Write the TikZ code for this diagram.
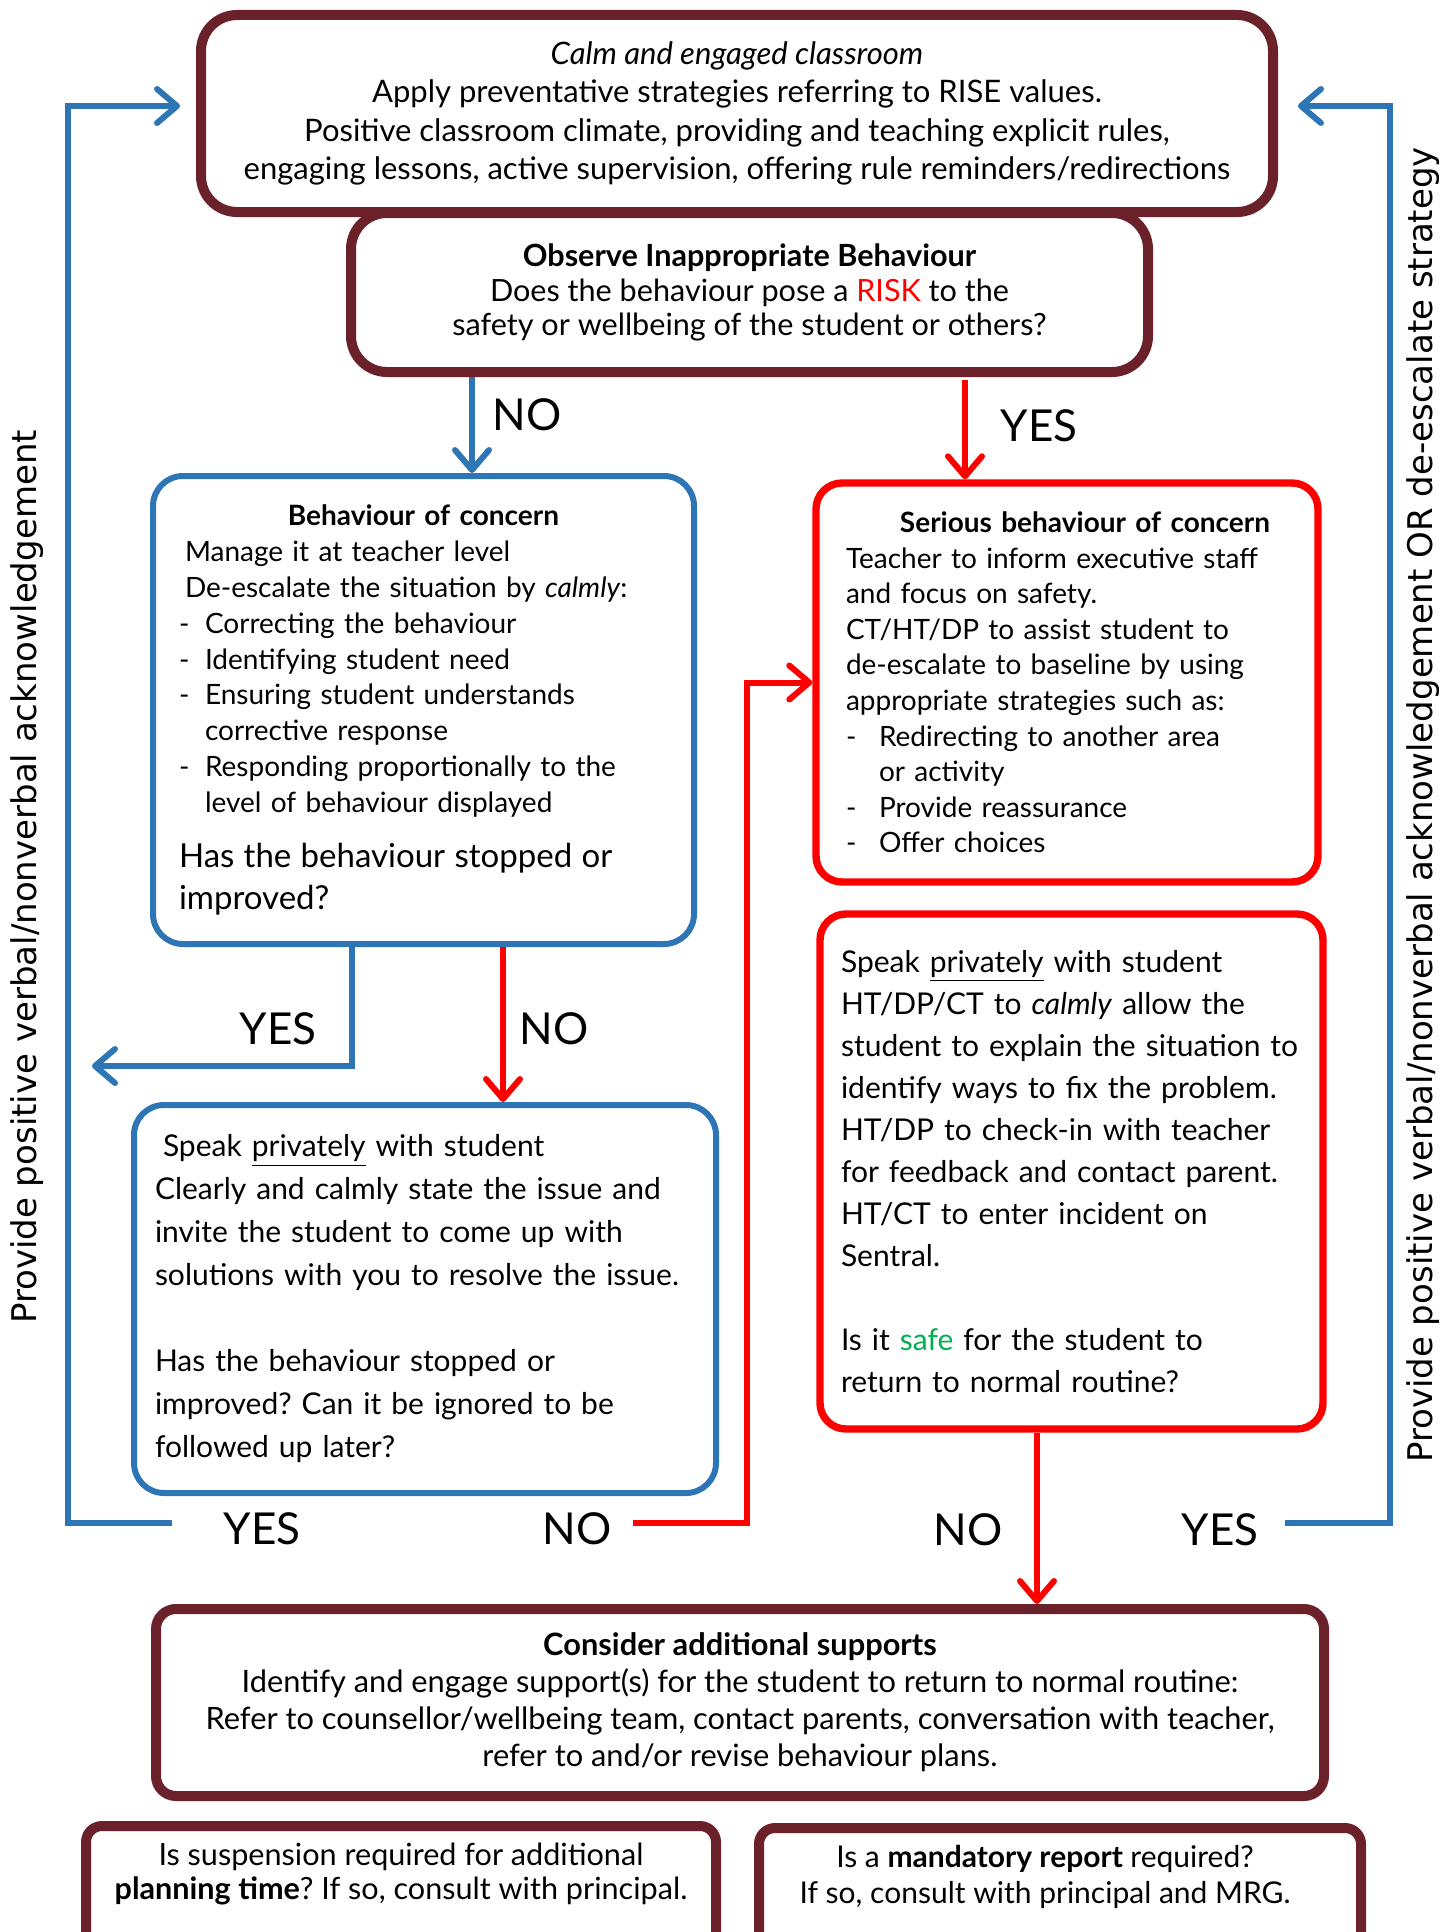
\documentclass[tikz,border=0pt]{standalone}
\usepackage{fontspec}
\setmainfont{Lato}
\newfontfamily\sidefont{DejaVu Sans}
\usetikzlibrary{arrows.meta}
\definecolor{boxmaroon}{HTML}{6B2129}
\definecolor{boxblue}{HTML}{2E75B6}
\definecolor{boxred}{HTML}{FF0000}
\definecolor{safegreen}{HTML}{00B050}
\newcommand{\dashitem}[1][13pt]{\makebox[#1][l]{-}}
\newcommand{\dashcont}[1][13pt]{\hspace*{#1}}
\frenchspacing
\begin{document}
\begin{tikzpicture}[x=0.5pt,y=-0.5pt]
        \tikzstyle{mbox}=[draw=boxmaroon, line width=5pt, rounded corners=18pt, align=center, inner sep=0pt]
        \tikzstyle{bbox}=[draw=boxblue, line width=3pt, rounded corners=15pt, inner sep=0pt]
        \tikzstyle{rbox}=[draw=boxred, line width=3.7pt, rounded corners=13pt, inner sep=0pt]
        \tikzstyle{bline}=[draw=boxblue, line width=3pt]
        \tikzstyle{rline}=[draw=boxred, line width=3pt]
        \tikzstyle{tip}=[-{Straight Barb[length=10pt,width=17pt,round]}]
        \tikzstyle{yn}=[font=\fontsize{22}{26}\selectfont, inner sep=0pt]
        \tikzstyle{side}=[rotate=90, font=\sidefont\fontsize{17}{20}\selectfont]
        \useasboundingbox (0,0) rectangle (1444,1932);
        \clip (0,0) rectangle (1444,1932);
        % boxes
        \node[mbox, minimum width=536pt, minimum height=98.5pt, font=\fontsize{15.5}{19.3}\selectfont] (calm) at (737,113.5) {\textit{Calm and engaged classroom}\\ Apply preventative strategies referring to RISE values.\\ Positive classroom climate, providing and teaching explicit rules,\\ engaging lessons, active supervision, offering rule reminders/redirections};
        \node[mbox, minimum width=398.5pt, minimum height=79.5pt, font=\fontsize{15.3}{17.2}\selectfont] (observe) at (749.5,292.5) {\textbf{Observe Inappropriate Behaviour}\\ Does the behaviour pose a \textcolor{boxred}{RISK} to the\\ safety or wellbeing of the student or others?};
        \node[bbox, minimum width=270.5pt, minimum height=234pt, text width=244.5pt, align=left, font=\fontsize{14}{17.9}\selectfont] (boc) at (423.5,710) {\makebox[\hsize]{\textbf{Behaviour of concern}}\\
            \hspace*{3pt}Manage it at teacher level\\
            \hspace*{3pt}De-escalate the situation by \textit{calmly}:\\
            \dashitem Correcting the behaviour\\
            \dashitem Identifying student need\\
            \dashitem Ensuring student understands\\
            \dashcont corrective response\\
            \dashitem Responding proportionally to the\\
            \dashcont level of behaviour displayed\par
            \vspace{6.5pt}{\fontsize{16.5}{21}\selectfont Has the behaviour stopped or\\ improved?\par}};
        \node[rbox, minimum width=251pt, minimum height=199.5pt, text width=221pt, align=left, font=\fontsize{14}{17.8}\selectfont] (serious) at (1067,682.5) {\makebox[\hsize]{\hspace{18pt}\textbf{Serious behaviour of concern}}\\
            Teacher to inform executive staff\\
            and focus on safety.\\
            CT/HT/DP to assist student to\\
            de-escalate to baseline by using\\
            appropriate strategies such as:\\
            \dashitem[16.5pt]Redirecting to another area\\
            \dashcont[16.5pt]or activity\\
            \dashitem[16.5pt]Provide reassurance\\
            \dashitem[16.5pt]Offer choices};
        \node[rbox, minimum width=251.5pt, minimum height=257.5pt, text width=230.5pt, align=left, font=\fontsize{15}{21}\selectfont] (rspeak) at (1071.5,1171.5) {Speak \underline{privately} with student\\
            HT/DP/CT to \textit{calmly} allow the\\
            student to explain the situation to\\
            identify ways to fix the problem.\\
            HT/DP to check-in with teacher\\
            for feedback and contact parent.\\
            HT/CT to enter incident on\\
            Sentral.\\[21pt]
            Is it \textcolor{safegreen}{safe} for the student to\\
            return to normal routine?};
        \node[bbox, minimum width=291pt, minimum height=194pt, text width=270pt, align=left, font=\fontsize{15}{21.5}\selectfont] (bspeak) at (425,1299) {\hspace*{4pt}Speak \underline{privately} with student\\
            Clearly and calmly state the issue and\\
            invite the student to come up with\\
            solutions with you to resolve the issue.\\[21.5pt]
            Has the behaviour stopped or\\
            improved? Can it be ignored to be\\
            followed up later?};
        \node[mbox, minimum width=584pt, minimum height=93.5pt, rounded corners=10pt, font=\fontsize{15.4}{18.5}\selectfont] (consider) at (740,1702.5) {\textbf{Consider additional supports}\\ Identify and engage support(s) for the student to return to normal routine:\\ Refer to counsellor/wellbeing team, contact parents, conversation with teacher,\\ refer to and/or revise behaviour plans.};
        \node[mbox, rounded corners=8pt, minimum width=315pt, minimum height=100pt, anchor=north] (susp) at (401,1821) {};
        \node[align=center, font=\fontsize{15.3}{17.2}\selectfont] (susptext) at (401,1874) {Is suspension required for additional\\ \textbf{planning time}? If so, consult with principal.};
        \node[mbox, rounded corners=8pt, minimum width=301pt, minimum height=100pt, anchor=north] (mand) at (1060,1823) {};
        \node[align=center, font=\fontsize{15}{17.9}\selectfont] (mandtext) at (1045,1877) {Is a \textbf{mandatory report} required?\\ If so, consult with principal and MRG.};
        % labels
        \node[yn] (no1) at (527,415) {NO};
        \node[yn] (yes1) at (1039,426) {YES};
        \node[yn] (yes2) at (278,1029) {YES};
        \node[yn] (no2) at (554,1029) {NO};
        \node[yn] (yes3) at (262,1529) {YES};
        \node[yn] (no3) at (577,1529) {NO};
        \node[yn] (no4) at (968,1530) {NO};
        \node[yn] (yes4) at (1220,1530) {YES};
        \node[side] (ackleft) at (27,877) {Provide positive verbal/nonverbal acknowledgement};
        \node[side] (ackright) at (1423,805) {Provide positive verbal/nonverbal acknowledgement OR de-escalate strategy};
        % connectors
        \coordinate (c1) at (472,0);
        \draw[bline, tip] (c1 |- observe.south) -- (c1 |- boc.north);
        \coordinate (c2) at (965,380);
        \draw[rline, tip] (c2) -- (c2 |- serious.north);
        \coordinate (c3) at (352,0);
        \coordinate (yesend) at (92,1066);
        \draw[bline, tip] (c3 |- boc.south) |- (yesend);
        \coordinate (c4) at (503,0);
        \draw[rline, tip] (c4 |- boc.south) -- (c4 |- bspeak.north);
        \coordinate (c5) at (1037,0);
        \draw[rline, tip] (c5 |- rspeak.south) -- (c5 |- consider.north);
        \coordinate (lstart) at (172,1523);
        \coordinate (lcorner) at (68,106);
        \draw[bline, tip, shorten >=8pt] (lstart) -| (lcorner) -- (lcorner -| calm.west);
        \coordinate (rstart) at (633,1523);
        \coordinate (rmid) at (747,1100);
        \draw[rline, tip] (rstart) -| (rmid) |- (serious.west);
        \coordinate (rystart) at (1285,1523);
        \coordinate (rcorner) at (1390,106);
        \draw[bline, tip, shorten >=10pt] (rystart) -| (rcorner) -- (rcorner -| calm.east);
\end{tikzpicture}
\end{document}
